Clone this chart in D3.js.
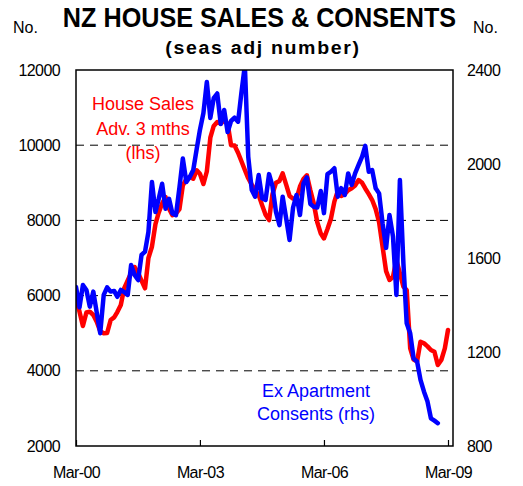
<!DOCTYPE html>
<html>
<head>
<meta charset="utf-8">
<script src="https://cdn.jsdelivr.net/npm/d3@7"></script>
<style>
  body { margin: 0; background: #fff; }
  svg text { font-family: "Liberation Sans", Arial, sans-serif; }
</style>
</head>
<body>
<div id="canvas"></div>
<script>
// house sales, advanced 3 months, monthly from Mar-00 (lhs)
const salesStart = "2000-03";
const houseSales = [
  5909, 5572, 5191, 5550, 5572, 5484, 5300, 5050, 4997, 5005,
  5350, 5420, 5563, 5750, 6200, 6400, 6601, 6760, 6600, 6400,
  6194, 7000, 7300, 7900, 8200, 8450, 8622, 8311, 8136, 8178,
  8300, 8933, 9100, 9154, 9109, 9332, 9242, 8968, 9300, 10200,
  10511, 10617, 10572, 10662, 10572, 10000, 9992, 9800, 9580, 9340,
  9120, 8950, 8800, 8675, 8400, 8150, 8010, 8700, 9000, 9050,
  9250, 8950, 8650, 8580, 8570, 8900, 9100, 9200, 8800, 8450,
  7950, 7650, 7520, 7771, 8037, 8500, 8782, 8650, 8700, 8800,
  8854, 8930, 9074, 9000, 8850, 8700, 8542, 8300, 7950, 7300,
  6650, 6415, 6500, 6947, 6593, 6237, 6149, 4600, 4300, 4250,
  4774, 4731, 4650, 4553, 4508, 4154, 4287, 4598, 5085
];

// ex apartment consents, monthly from Mar-00 (rhs)
const consentsStart = "2000-03";
const consents = [
  1477, 1390, 1485, 1464, 1393, 1457, 1366, 1280, 1443, 1475,
  1457, 1460, 1435, 1464, 1455, 1443, 1570, 1528, 1506, 1613,
  1627, 1711, 1923, 1796, 1850, 1916, 1810, 1852, 1789, 1782,
  1900, 2023, 1923, 1945, 1974, 2065, 2145, 2217, 2349, 2196,
  2280, 2300, 2170, 2230, 2136, 2183, 2197, 2180, 2301, 2420,
  2031, 1889, 1861, 1953, 1854, 1847, 1957, 1906, 1796, 1740,
  1861, 1769, 1677, 1815, 1868, 1783, 1918, 1943, 1830, 1818,
  1815, 1885, 1791, 1957, 1967, 1982, 1861, 1897, 1868, 1960,
  1911, 1960, 1996, 2031, 2077, 1967, 1974, 1897, 1875, 1748,
  1643, 1783, 1691, 1443, 1932, 1577, 1322, 1280, 1173, 1159,
  1081, 1031, 989, 918, 908, 897
];

const xTickLabels = ["2000-03", "2003-03", "2006-03", "2009-03"];
const leftTicks = [2000, 4000, 6000, 8000, 10000, 12000];
const rightTicks = [800, 1200, 1600, 2000, 2400];
const gridValues = [4000, 6000, 8000, 10000];

const parseMonth = d3.timeParse("%Y-%m");

function monthSeries(start, values) {
  const t0 = parseMonth(start);
  return values.map((v, i) => ({ date: d3.timeMonth.offset(t0, i), value: v }));
}

const w = 523, h = 486;
const plot = { left: 76, right: 453, top: 70, bottom: 446 };

const svg = d3.select("#canvas").append("svg")
  .attr("width", w)
  .attr("height", h);

const x = d3.scaleTime()
  .domain([parseMonth("2000-03"), parseMonth("2009-03")])
  .range([76, 448]);
const yL = d3.scaleLinear().domain([2000, 12000]).range([plot.bottom, plot.top]);
const yR = d3.scaleLinear().domain([800, 2400]).range([plot.bottom, plot.top]);

svg.append("clipPath").attr("id", "clip")
  .append("rect")
  .attr("x", plot.left).attr("y", plot.top)
  .attr("width", plot.right - plot.left).attr("height", plot.bottom - plot.top);

// gridlines
svg.append("g")
  .selectAll("line")
  .data(gridValues)
  .enter().append("line")
  .attr("x1", plot.left).attr("x2", plot.right)
  .attr("y1", d => yL(d)).attr("y2", d => yL(d))
  .attr("stroke", "#000")
  .attr("stroke-width", 1)
  .attr("stroke-dasharray", "8,6");

// lines
const lines = svg.append("g").attr("clip-path", "url(#clip)");

const salesLine = d3.line().x(d => x(d.date)).y(d => yL(d.value));
const consentLine = d3.line().x(d => x(d.date)).y(d => yR(d.value));

lines.append("path")
  .datum(monthSeries(salesStart, houseSales))
  .attr("d", salesLine)
  .attr("fill", "none")
  .attr("stroke", "#ff0000")
  .attr("stroke-width", 4.5)
  .attr("stroke-linejoin", "round")
  .attr("stroke-linecap", "round");

lines.append("path")
  .datum(monthSeries(consentsStart, consents))
  .attr("d", consentLine)
  .attr("fill", "none")
  .attr("stroke", "#0000ff")
  .attr("stroke-width", 4.5)
  .attr("stroke-linejoin", "round")
  .attr("stroke-linecap", "round");

// frame
svg.append("rect")
  .attr("x", plot.left).attr("y", plot.top)
  .attr("width", plot.right - plot.left).attr("height", plot.bottom - plot.top)
  .attr("fill", "none")
  .attr("stroke", "#000")
  .attr("stroke-width", 1.5);

// axes
const axisFont = g => {
  g.select(".domain").remove();
  g.selectAll("text")
    .attr("font-size", 16)
    .attr("letter-spacing", -0.6)
    .attr("fill", "#000")
    .style("font-family", "'Liberation Sans', Arial, sans-serif");
};

svg.append("g")
  .attr("transform", `translate(${plot.left},0)`)
  .call(d3.axisLeft(yL).tickValues(leftTicks).tickSize(0).tickPadding(16).tickFormat(d3.format("d")))
  .call(axisFont);

svg.append("g")
  .attr("transform", `translate(${plot.right},0)`)
  .call(d3.axisRight(yR).tickValues(rightTicks).tickSize(0).tickPadding(14).tickFormat(d3.format("d")))
  .call(axisFont);

const xAxis = svg.append("g")
  .attr("transform", `translate(0,${plot.bottom})`)
  .call(d3.axisBottom(x)
    .tickValues(xTickLabels.map(parseMonth))
    .tickSizeInner(-6).tickSizeOuter(0)
    .tickPadding(21)
    .tickFormat(d3.timeFormat("%b-%y")))
  .call(axisFont);
xAxis.selectAll("line").attr("stroke", "#000").attr("stroke-width", 1.2);

// titles (squeezed horizontally like the original)
svg.append("text")
  .attr("transform", "translate(259.5,27) scale(0.9,1)")
  .attr("text-anchor", "middle")
  .attr("font-size", 28).attr("font-weight", "bold")
  .text("NZ HOUSE SALES & CONSENTS");

svg.append("text")
  .attr("transform", "translate(263,54) scale(1.03,1)")
  .attr("text-anchor", "middle")
  .attr("font-size", 19).attr("font-weight", "bold")
  .attr("letter-spacing", 1.6)
  .text("(seas adj number)");

svg.append("text")
  .attr("x", 13).attr("y", 33)
  .attr("font-size", 16)
  .text("No.");

svg.append("text")
  .attr("x", 473).attr("y", 33)
  .attr("font-size", 16)
  .text("No.");

// series labels
const redLabel = ["House Sales", "Adv. 3 mths", "(lhs)"];
svg.append("g")
  .selectAll("text")
  .data(redLabel)
  .enter().append("text")
  .attr("x", 143).attr("y", (d, i) => 110 + i * 24.5)
  .attr("text-anchor", "middle")
  .attr("font-size", 18)
  .attr("fill", "#ff0000")
  .text(d => d);

const blueLabel = ["Ex Apartment", "Consents (rhs)"];
svg.append("g")
  .selectAll("text")
  .data(blueLabel)
  .enter().append("text")
  .attr("x", 316).attr("y", (d, i) => 396.5 + i * 23.5)
  .attr("text-anchor", "middle")
  .attr("font-size", 18)
  .attr("fill", "#0000ff")
  .text(d => d);
</script>
</body>
</html>
